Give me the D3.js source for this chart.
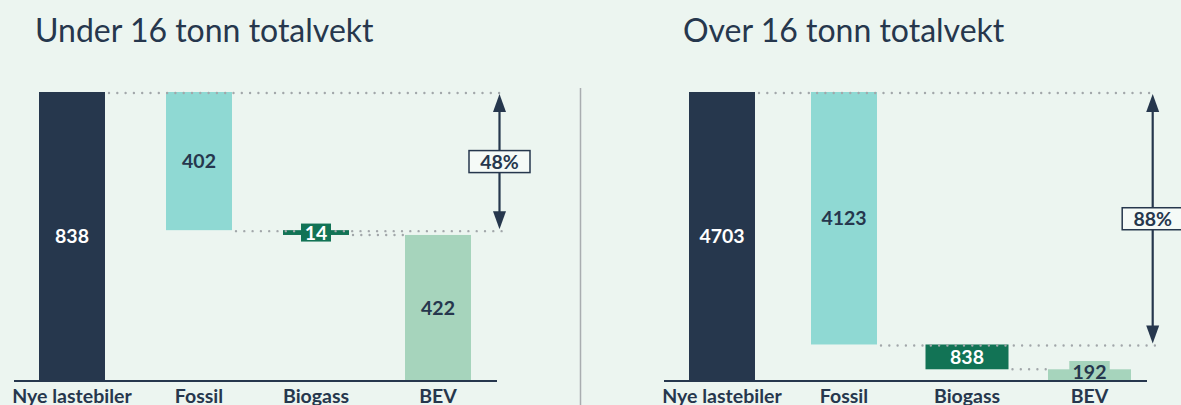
<!DOCTYPE html>
<html>
<head>
<meta charset="utf-8">
<script src="https://cdn.jsdelivr.net/npm/d3@7"></script>
<style>
  html, body { margin: 0; padding: 0; background: #ECF5F0; }
  svg { display: block; }
  text { font-family: Lato, "Open Sans", sans-serif; }
</style>
</head>
<body>
<svg id="chart" width="1181" height="405"></svg>
<script>
// ---- data ----
const titles = ["Under 16 tonn totalvekt", "Over 16 tonn totalvekt"];
const categories = ["Nye lastebiler", "Fossil", "Biogass", "BEV"];
const underValues = [838, 402, 14, 422];
const overValues = [4703, 4123, 838, 192];
// bar extents as drawn (value units)
const underFrom = [0, 436, 422, 0];
const underTo = [838, 838, 436, 422];
const overFrom = [0, 580, 175, 0];
const overTo = [4703, 4703, 580, 175];
const shareLabels = ["48%", "88%"];

// ---- style ----
const C = {
  bg: "#ECF5F0", navy: "#26374D", fossil: "#8FD9D3", biogass: "#127355",
  bev: "#A6D4BC", dots: "#A2A7AA", sep: "#A9ADB0", boxFill: "#F5FAF7"
};
const barColors = [C.navy, C.fossil, C.biogass, C.bev];
const labelColors = ["#FFFFFF", C.navy, "#FFFFFF", C.navy];

const svg = d3.select("#chart");
svg.append("rect").attr("width", 1181).attr("height", 405).attr("fill", C.bg);

// separator
svg.append("line").attr("x1", 580.5).attr("x2", 580.5).attr("y1", 88).attr("y2", 405)
  .attr("stroke", C.sep).attr("stroke-width", 1.5);

const panels = [
  { title: titles[0], titleX: 35, values: underValues, from: underFrom, to: underTo,
    x0: 11, arrowX: 499.5, wide: [66, 66, 66, 66], shift: [0, 5, 0, 0], share: shareLabels[0] },
  { title: titles[1], titleX: 683, values: overValues, from: overFrom, to: overTo,
    x0: 661, arrowX: 1152.7, wide: [66, 66, 83, 83], shift: [0, 0, 1, 1.5], share: shareLabels[1] }
];

const yTop = 92, yBase = 380;

panels.forEach((p, pi) => {
  const g = svg.append("g");
  g.append("text").attr("x", p.titleX).attr("y", 42)
    .attr("font-size", 32).attr("font-weight", 400).attr("fill", C.navy)
    .text(p.title);

  const x = d3.scaleBand().domain(categories).range([p.x0, p.x0 + 488]).paddingInner(0).paddingOuter(0);
  const y = d3.scaleLinear().domain([0, p.values[0]]).range([yBase, yTop]);
  const cx = i => x(categories[i]) + x.bandwidth() / 2 + p.shift[i];
  const left = i => cx(i) - p.wide[i] / 2;
  const right = i => cx(i) + p.wide[i] / 2;

  // bars
  g.selectAll("rect.bar").data(categories).join("rect").attr("class", "bar")
    .attr("x", (d, i) => left(i)).attr("width", (d, i) => p.wide[i])
    .attr("y", (d, i) => y(p.to[i])).attr("height", (d, i) => y(p.from[i]) - y(p.to[i]))
    .attr("fill", (d, i) => barColors[i]);

  // dotted connectors
  const conns = [
    { v: p.to[0], x1: right(0) + 4, x2: p.arrowX + 3, off: 1 },
    { v: p.from[1], x1: right(1) + 4, x2: p.arrowX + 3, off: 1 },
    { v: p.from[2], x1: right(2) + 4, x2: left(3) - 2, off: 0 }
  ];
  g.selectAll("line.dot").data(conns).join("line").attr("class", "dot")
    .attr("x1", d => d.x1).attr("x2", d => d.x2)
    .attr("y1", d => y(d.v) + d.off).attr("y2", d => y(d.v) + d.off)
    .attr("stroke", C.dots).attr("stroke-width", 2.4)
    .attr("stroke-linecap", "round").attr("stroke-dasharray", "0 8.3");

  // axis
  const axis = d3.axisBottom(x).tickSize(0).tickPadding(8);
  const ax = g.append("g").attr("transform", `translate(0,${yBase + 1})`).call(axis);
  ax.select(".domain").attr("stroke", C.navy).attr("stroke-width", 2.2)
    .attr("d", `M${p.x0 + 3},0H${p.x0 + 486}`);
  ax.selectAll(".tick").attr("transform", (d, i) => `translate(${cx(i)},0)`);
  ax.selectAll(".tick text").attr("font-family", "Lato, sans-serif").attr("font-size", 19.5)
    .attr("font-weight", 700).attr("fill", C.navy);

  // arrow
  const ya = y(p.to[0]) + 2, yb = y(p.from[1]) - 1;
  const aw = 6.5, ah = 18;
  g.append("line").attr("x1", p.arrowX).attr("x2", p.arrowX).attr("y1", ya + 10).attr("y2", yb - 10)
    .attr("stroke", C.navy).attr("stroke-width", 2.2);
  g.append("path").attr("fill", C.navy)
    .attr("d", `M${p.arrowX},${ya}L${p.arrowX + aw},${ya + ah}L${p.arrowX - aw},${ya + ah}Z`);
  g.append("path").attr("fill", C.navy)
    .attr("d", `M${p.arrowX},${yb}L${p.arrowX + aw},${yb - ah}L${p.arrowX - aw},${yb - ah}Z`);
  const ym = (ya + yb) / 2;
  g.append("rect").attr("x", p.arrowX - 30.5).attr("y", ym - 11).attr("width", 61).attr("height", 22)
    .attr("fill", C.boxFill).attr("stroke", C.navy).attr("stroke-width", 1.5);
  g.append("text").attr("x", p.arrowX).attr("y", ym).attr("dy", "0.36em").attr("text-anchor", "middle")
    .attr("font-size", 19.5).attr("font-weight", 700).attr("fill", C.navy).text(p.share);

  // value labels
  categories.forEach((c, i) => {
    const yt = y(p.to[i]), yf = y(p.from[i]);
    let ly = (yt + yf) / 2;
    const h = yf - yt;
    if (h < 16) {
      const isBase = p.from[i] === 0;
      const bw = String(p.values[i]).length * 10.5 + 9;
      if (isBase) {
        g.append("rect").attr("x", cx(i) - bw / 2).attr("y", yf - 19).attr("width", bw).attr("height", 19)
          .attr("fill", barColors[i]);
        ly = yf - 8;
      } else {
        g.append("rect").attr("x", cx(i) - bw / 2).attr("y", ly - 9).attr("width", bw).attr("height", 18)
          .attr("fill", barColors[i]);
      }
    }
    g.append("text").attr("x", cx(i)).attr("y", ly).attr("dy", "0.36em").attr("text-anchor", "middle")
      .attr("font-size", 19.5).attr("font-weight", 700).attr("fill", labelColors[i])
      .text(p.values[i]);
  });
});
</script>
</body>
</html>
